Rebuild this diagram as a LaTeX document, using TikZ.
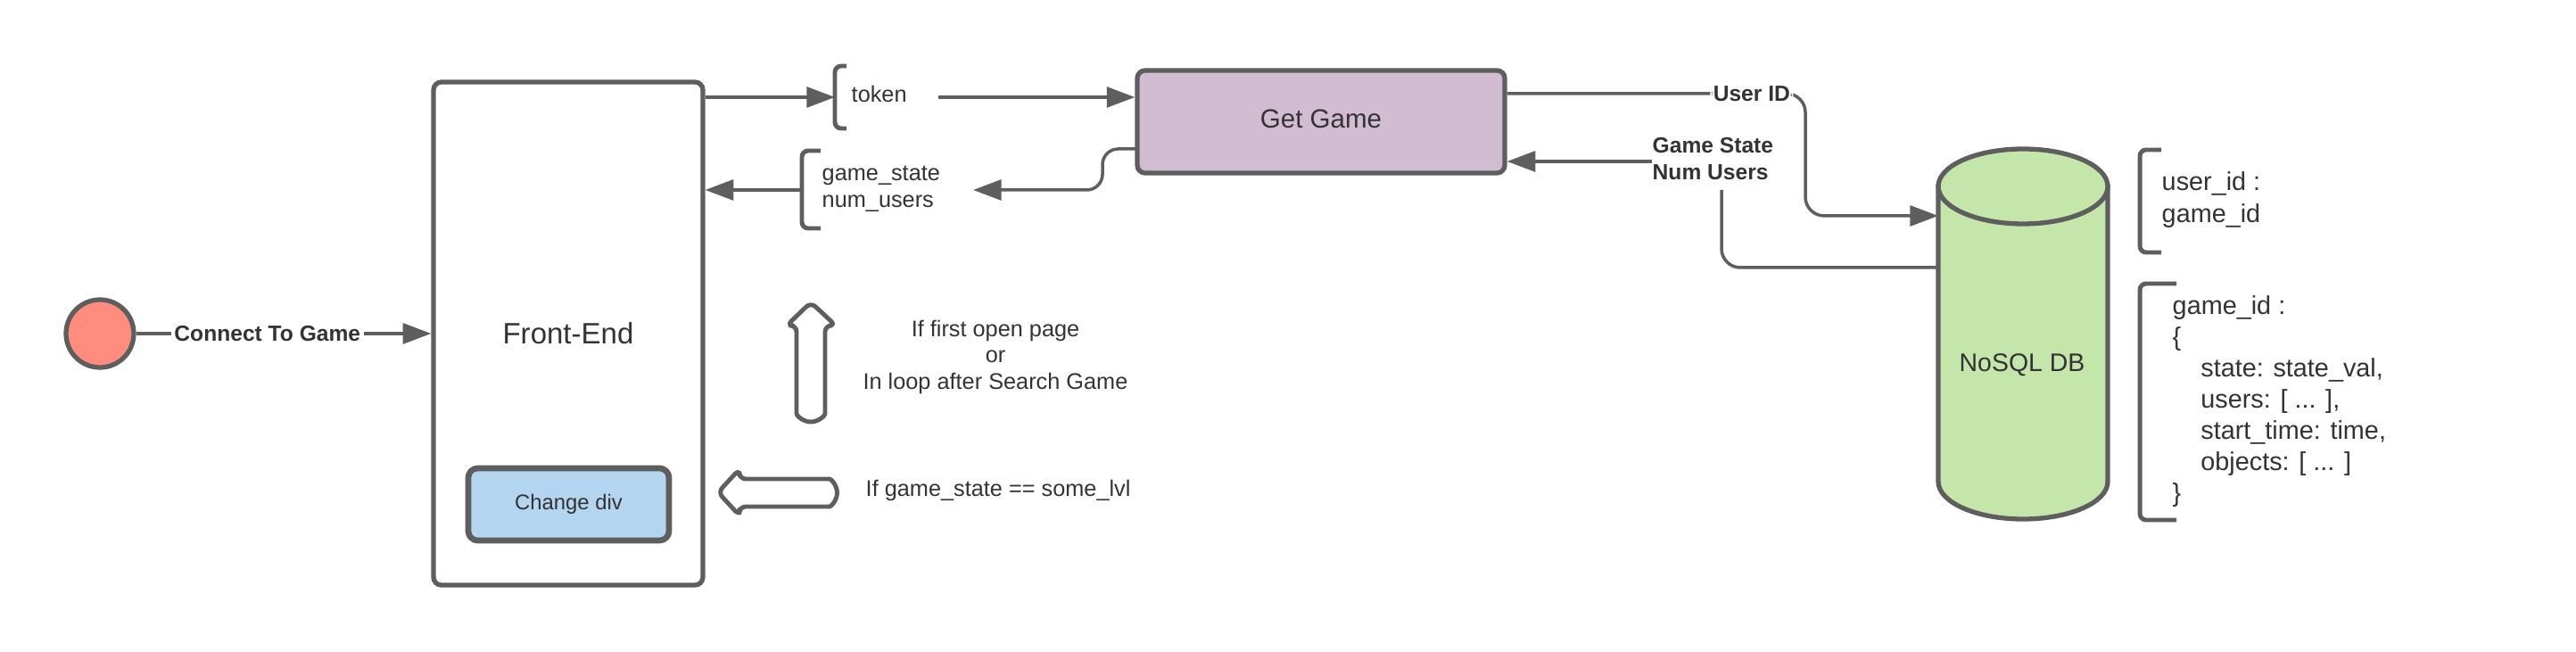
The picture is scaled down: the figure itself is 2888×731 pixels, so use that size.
\documentclass[tikz,border=0pt]{standalone}
\usepackage{fontspec}
\setmainfont{Liberation Sans}
\usetikzlibrary{arrows.meta,positioning,calc}

\definecolor{linegray}{HTML}{5E5E5E}
\definecolor{txtgray}{HTML}{333333}
\definecolor{startred}{HTML}{FF8C7D}
\definecolor{getpurple}{HTML}{D1BCD2}
\definecolor{divblue}{HTML}{B3D5EF}
\definecolor{dbgreen}{HTML}{C5E6AA}

\tikzset{
  box/.style={draw=linegray, line width=1.5pt, rounded corners=2.5pt, text=txtgray},
  conn/.style={draw=linegray, line width=1pt},
  arr/.style={conn, -{Triangle[length=9pt,width=6.5pt]}},
  lbl/.style={fill=white, inner sep=1pt, text=txtgray, font=\bfseries\fontsize{7}{8.5}\selectfont},
  txt/.style={text=txtgray, inner sep=0pt, font=\fontsize{7.2}{8.5}\selectfont},
  brk/.style={draw=linegray, line width=1.4pt, rounded corners=2pt},
  fatarrow/.style={draw=linegray, line width=1.4pt, rounded corners=2pt, line join=round},
}

\begin{document}
\begin{tikzpicture}[x=0.1mm,y=-0.1mm]
\useasboundingbox (0,0) rectangle (2888,731);

% main blocks
\node (start) at (112,374) [circle, draw=linegray, line width=1.5pt, fill=startred, minimum size=7.6mm, inner sep=0pt] {};
\node (fe) at (637,374) [box, minimum width=30.2mm, minimum height=56.4mm, font=\fontsize{9.4}{11}\selectfont] {Front-End};
\node (chg) at (637.5,565.5) [box, fill=divblue, line width=1.9pt, rounded corners=3pt, minimum width=22.5mm, minimum height=8.1mm, font=\fontsize{6.8}{8}\selectfont] {Change div};
\node (gg) at (1481,136.5) [box, fill=getpurple, minimum width=41.2mm, minimum height=11.5mm, font=\fontsize{8.4}{10}\selectfont, text depth=0.6mm] {Get Game};

% database
\filldraw[fill=dbgreen, draw=linegray, line width=1.5pt] (2173,209) -- (2173,540) arc[start angle=180, end angle=360, x radius=9.5mm, y radius=4.2mm] -- (2363,209) -- cycle;
\draw[line width=1.5pt, draw=linegray, fill=dbgreen] (2268,209) ellipse [x radius=9.5mm, y radius=4.2mm];
\node (db) [txt, font=\fontsize{8.1}{10}\selectfont] at (2267,409) {NoSQL DB};
\coordinate (dbin) at (2173,242);
\coordinate (dbout) at (2173,300);

\path[arr] (start) -- node[lbl, pos=0.445] {Connect To Game} (fe);

% token
\coordinate (tokbr) at (936,109);
\draw[brk] (949,74) -- (936,74) -- (936,144) -- (949,144);
\node (token) [txt, anchor=west] at (954,105) {token};
\draw[arr] (fe.east |- tokbr) -- (tokbr);
\draw[arr] ([xshift=3.5mm]token.east |- tokbr) -- (gg.west |- tokbr);

% game_state back to front-end
\coordinate (gsbr) at (899,213);
\coordinate (ggout) at (1275,167);
\coordinate (gsin) at (1091,213);
\draw[brk] (920,169) -- (899,169) -- (899,256) -- (920,256);
\node (gs) [txt, anchor=west, align=left] at (921,212) {game\_state\\num\_users};
\draw[arr] (gsbr) -- (fe.east |- gsbr);
\draw[arr, rounded corners=5pt] (ggout) -| (1236,213) -- (gsin);

% user id to db
\draw[arr, rounded corners=6pt] ([yshift=3.15mm]gg.east) -- node[lbl, pos=0.82] {User ID} (2024,105) -- (2024,242) -- (dbin);

% db back to get game
\node (gsdb) [lbl, fill=none, anchor=west, align=left, inner sep=0pt] at (1852,178) {Game State\\Num Users};
\draw[arr] ([yshift=-0.3mm]gsdb.west) -- ([yshift=-0.3mm]gsdb.west -| gg.east);
\draw[conn, rounded corners=6pt] (dbout) -| (1930,213);

% fat arrows
\draw[fatarrow] (909,339) -- (937,365) -- (925,365) -- (925,457) arc[start angle=0, end angle=-180, radius=1.6mm] -- (893,365) -- (882,365) -- cycle;
\draw[fatarrow] (805,552) -- (829,526) -- (829,537) -- (923,537) arc[start angle=90, end angle=-90, radius=1.55mm] -- (829,568) -- (829,578) -- cycle;
\node (cond1) [txt, align=center, font=\fontsize{7.2}{8.4}\selectfont] at (1116,400) {If first open page\\or\\In loop after Search Game};
\node (cond2) [txt, anchor=west, font=\fontsize{7.2}{8.4}\selectfont] at (970,550) {If game\_state == some\_lvl};

% stored records
\draw[brk] (2423,168) -- (2399,168) -- (2399,283) -- (2423,283);
\node (keys) [txt, anchor=west, align=left, font=\fontsize{8.2}{10}\selectfont] at (2423,224) {user\_id :\\game\_id};
\draw[brk] (2440,318) -- (2399,318) -- (2399,583) -- (2440,583);
\node (doc) [txt, anchor=west, align=left, font=\fontsize{8.2}{10}\selectfont] at (2435,450) {game\_id :\\\{\\\hspace*{9pt}state: state\_val,\\\hspace*{9pt}users: [ ... ],\\\hspace*{9pt}start\_time: time,\\\hspace*{9pt}objects: [ ... ]\\\}};
\end{tikzpicture}
\end{document}
